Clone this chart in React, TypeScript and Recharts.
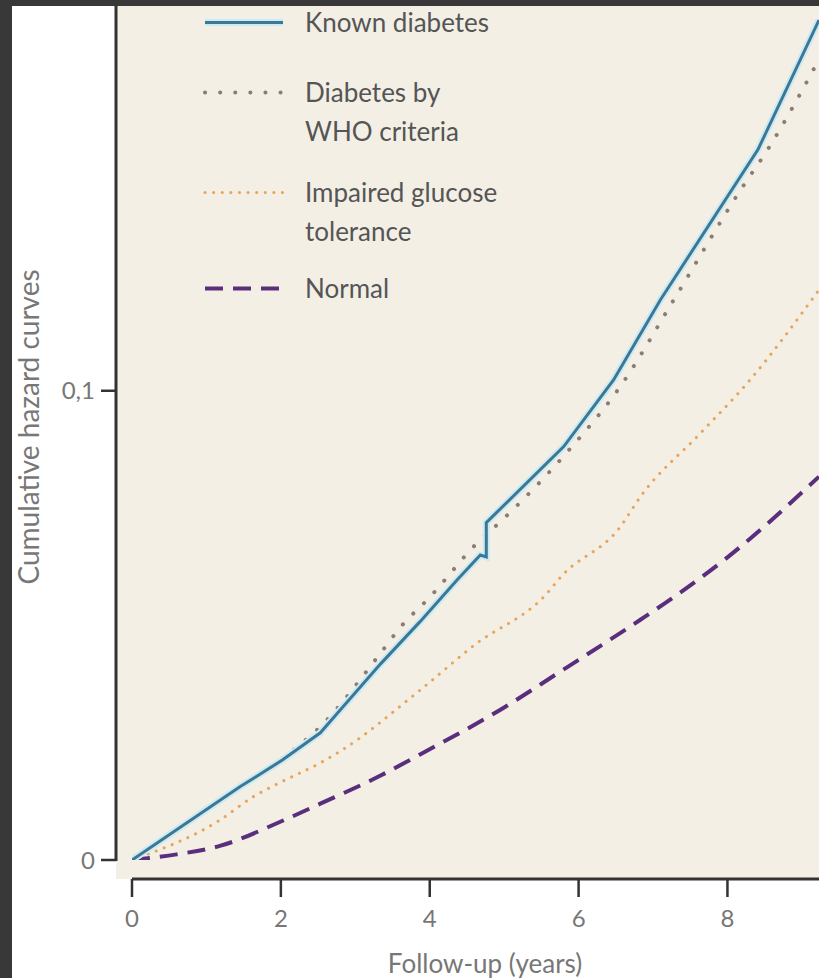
import React from 'react';
import { LineChart, Line, XAxis, YAxis, CartesianGrid, Legend, Label } from 'recharts';

// follow-up time (years) and cumulative hazard per group
const knownT = [0, 1.45, 2.02, 2.53, 2.8, 3.34, 3.87, 4.37, 4.68, 4.76, 4.76, 5.8, 6.47, 7.1, 8.41, 9.23];
const knownV = [0, 0.0156, 0.0213, 0.0271, 0.032, 0.0418, 0.0508, 0.0597, 0.065, 0.0646, 0.0719, 0.0881, 0.1023, 0.1194, 0.1514, 0.179];

const whoT = [0, 1.0, 1.99, 2.53, 3.34, 3.6, 4.0, 4.64, 4.95, 5.85, 6.56, 7.28, 8.18, 8.54, 9.23];
const whoV = [0, 0.0108, 0.0213, 0.0284, 0.0441, 0.0495, 0.056, 0.0676, 0.0721, 0.087, 0.1009, 0.1194, 0.1429, 0.1514, 0.1706];

const igtT = [0, 1.18, 1.63, 2.0, 2.53, 2.8, 3.87, 4.6, 5.58, 5.76, 6.56, 6.83, 7.64, 8.27, 9.23];
const igtV = [0, 0.0085, 0.0135, 0.0166, 0.0207, 0.0232, 0.0362, 0.0458, 0.0569, 0.0603, 0.071, 0.0774, 0.091, 0.1017, 0.1215];

const normT = [0, 0.6, 1.18, 2.0, 2.53, 3.34, 3.87, 5.0, 5.72, 6.83, 7.24, 8.0, 9.23];
const normV = [0, 0.0012, 0.003, 0.0082, 0.012, 0.018, 0.0225, 0.0325, 0.0398, 0.0512, 0.0556, 0.0645, 0.0817];

const xTicks = [0, 2, 4, 6, 8];
const yTicks = [0, 0.1];

const legendLines = [['Known diabetes'], ['Diabetes by', 'WHO criteria'], ['Impaired glucose', 'tolerance'], ['Normal']];

const toRows = (ts: number[], vs: number[]) => ts.map((t, i) => ({ t, v: vs[i] }));

const known = toRows(knownT, knownV);
const who = toRows(whoT, whoV);
const igt = toRows(igtT, igtV);
const normal = toRows(normT, normV);

const FONT = 'Lato, "Open Sans", sans-serif';
const AXIS = '#333';

const styles = [
  { stroke: '#3b7896', width: 3, dash: undefined, cap: 'butt' as const },
  { stroke: '#8c7d74', width: 4, dash: '0.1 15', cap: 'round' as const },
  { stroke: '#eaa35a', width: 3, dash: '0.1 8.5', cap: 'round' as const },
  { stroke: '#5a2e7c', width: 4, dash: '18 10', cap: 'butt' as const },
];

const rowTop = [2.5, 72.5, 172.5, 268.5];

const LegendBox = () => (
  <div style={{ position: 'relative', width: 340, height: 310, fontFamily: FONT }}>
    {legendLines.map((lines, i) => (
      <div key={i} style={{ position: 'absolute', left: 0, top: rowTop[i], display: 'flex' }}>
        <svg width={105} height={39}>
          {i === 0 && <line x1={5} x2={83} y1={19.5} y2={19.5} stroke="#cdeaf3" strokeWidth={7} />}
          <line
            x1={5}
            x2={83}
            y1={19.5}
            y2={19.5}
            stroke={styles[i].stroke}
            strokeWidth={styles[i].width}
            strokeDasharray={styles[i].dash}
            strokeLinecap={styles[i].cap}
          />
        </svg>
        <div style={{ fontSize: 26, lineHeight: '39px', color: '#555', whiteSpace: 'nowrap' }}>
          {lines.map((l) => (
            <div key={l}>{l}</div>
          ))}
        </div>
      </div>
    ))}
  </div>
);

const YTitle = () => (
  <text
    x={28}
    y={427}
    transform="rotate(-90, 28, 427)"
    textAnchor="middle"
    dominantBaseline="central"
    fontSize={28}
    fontFamily={FONT}
    fill="#777"
  >
    Cumulative hazard curves
  </text>
);

const XTitle = () => (
  <text x={485} y={973} textAnchor="middle" fontSize={26} fontFamily={FONT} fill="#777">
    Follow-up (years)
  </text>
);

export default function App() {
  return (
    <div style={{ position: 'absolute', left: 0, top: 0, width: 819, height: 978, background: '#fff', overflow: 'hidden' }}>
      <LineChart width={819} height={978} margin={{ top: 6, right: 0, left: 12, bottom: 0 }}>
        <CartesianGrid fill="#f3efe5" horizontal={false} vertical={false} stroke="none" />
        <XAxis
          type="number"
          dataKey="t"
          domain={[0, 9.23]}
          allowDataOverflow
          ticks={xTicks}
          height={99}
          padding={{ left: 16, right: 0 }}
          axisLine={{ stroke: AXIS, strokeWidth: 3, strokeDasharray: '0 16 2000' }}
          tickLine={{ stroke: AXIS, strokeWidth: 2.5 }}
          tickSize={18}
          tickMargin={13}
          tick={{ fill: '#777', fontSize: 24, fontFamily: FONT }}
        >
          <Label content={<XTitle />} />
        </XAxis>
        <YAxis
          type="number"
          dataKey="v"
          domain={[0, 0.182]}
          allowDataOverflow
          ticks={yTicks}
          width={104}
          padding={{ top: 0, bottom: 19 }}
          axisLine={{ stroke: AXIS, strokeWidth: 3, strokeDasharray: '855 2000' }}
          tickLine={{ stroke: AXIS, strokeWidth: 2.5 }}
          tickSize={15}
          tickMargin={6}
          tickFormatter={(v: number) => String(v).replace('.', ',')}
          tick={{ fill: '#777', fontSize: 24, fontFamily: FONT }}
        >
          <Label content={<YTitle />} />
        </YAxis>
        <Legend
          layout="vertical"
          align="center"
          verticalAlign="middle"
          content={<LegendBox />}
          wrapperStyle={{ top: 0, left: 200, width: 340 }}
        />
        <Line data={normal} dataKey="v" type="monotone" stroke={styles[3].stroke} strokeWidth={styles[3].width} strokeDasharray={styles[3].dash} dot={false} isAnimationActive={false} />
        <Line data={igt} dataKey="v" type="monotone" stroke={styles[2].stroke} strokeWidth={styles[2].width} strokeDasharray={styles[2].dash} strokeLinecap="round" dot={false} isAnimationActive={false} />
        <Line data={who} dataKey="v" type="monotone" stroke={styles[1].stroke} strokeWidth={styles[1].width} strokeDasharray={styles[1].dash} strokeLinecap="round" dot={false} isAnimationActive={false} />
        <Line data={known} dataKey="v" type="linear" stroke="#cdeaf3" strokeWidth={7} dot={false} isAnimationActive={false} />
        <Line data={known} dataKey="v" type="linear" stroke={styles[0].stroke} strokeWidth={styles[0].width} dot={false} isAnimationActive={false} />
      </LineChart>
      <div style={{ position: 'absolute', left: 0, top: 0, width: 12, height: 978, background: '#383838' }} />
      <div style={{ position: 'absolute', left: 0, top: 0, width: 819, height: 6, background: '#383838' }} />
    </div>
  );
}
